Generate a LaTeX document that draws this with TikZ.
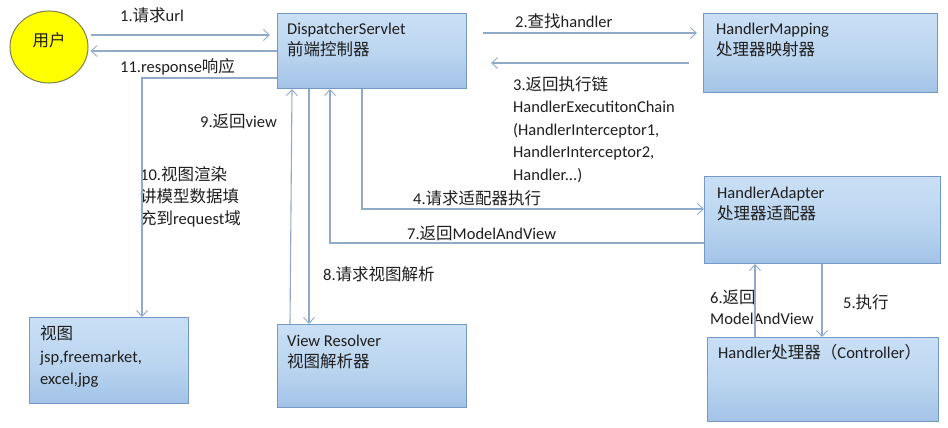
\documentclass[tikz,border=0pt]{standalone}
\usepackage{fontspec}
\setmainfont{Carlito}
\newfontfamily\cjk{Noto Sans CJK SC}
\newcommand\zh[1]{{\cjk #1}}
\usetikzlibrary{arrows.meta,shapes.geometric}
\definecolor{boxtop}{HTML}{C9DFF5}
\definecolor{boxmid}{HTML}{BCD6F0}
\definecolor{boxbot}{HTML}{A3C3E7}
\definecolor{boxedge}{HTML}{7499C4}
\definecolor{arrcol}{HTML}{90AAC8}
\definecolor{txtcol}{HTML}{1E1E1E}
\definecolor{usrfill}{HTML}{FFFF00}
\definecolor{usredge}{HTML}{7F7F55}
\tikzset{
  box/.style={draw=boxedge, line width=1pt, top color=boxtop, bottom color=boxbot, middle color=boxmid, anchor=north west, inner sep=0pt},
  conn/.style={draw=arrcol, line width=1.1pt},
  arr/.style={conn, -{Straight Barb[length=6pt,width=11pt,line width=0.9pt]}},
  lbl/.style={text=txtcol, anchor=base west, inner sep=0pt, font=\fontsize{16.5}{22.5}\selectfont},
}
\begin{document}
\begin{tikzpicture}[x=1pt,y=-1pt]
\useasboundingbox (0,0) rectangle (948,428);
% boxes
\node[ellipse, draw=usredge, line width=1pt, fill=usrfill, minimum width=78pt, minimum height=72pt, inner sep=0pt] (user) at (49,47) {};
\node[text=txtcol, font=\fontsize{16.5}{22.5}\selectfont] (usert) at (49,40) {\zh{用户}};
\node[box, minimum width=189pt, minimum height=75pt] (ds) at (277,13) {};
\node[box, minimum width=234pt, minimum height=79pt] (hm) at (703,13) {};
\node[box, minimum width=236pt, minimum height=87pt] (ha) at (704,176) {};
\node[box, minimum width=231pt, minimum height=84pt] (hd) at (707,337) {};
\node[box, minimum width=189pt, minimum height=83pt] (vr) at (277,324) {};
\node[box, minimum width=159pt, minimum height=86pt] (vw) at (29,317) {};
% box texts
\node[lbl] (dst1) at (287,35) {DispatcherServlet};
\node[lbl] (dst2) at (287,56) {\zh{前端控制器}};
\node[lbl] (hmt1) at (716,35) {HandlerMapping};
\node[lbl] (hmt2) at (716,56) {\zh{处理器映射器}};
\node[lbl] (hat1) at (717,198) {HandlerAdapter};
\node[lbl] (hat2) at (717,219) {\zh{处理器适配器}};
\node[lbl] (hdt) at (718,358) {Handler\zh{处理器（}Controller\zh{）}};
\node[lbl] (vrt1) at (287,346) {View Resolver};
\node[lbl] (vrt2) at (287,367) {\zh{视图解析器}};
\node[lbl] (vwt1) at (40,339) {\zh{视图}};
\node[lbl] (vwt2) at (40,362) {jsp,freemarket,};
\node[lbl] (vwt3) at (40,384) {excel,jpg};
% connector labels
\node[lbl] (l1) at (120,22) {1.\zh{请求}url};
\node[lbl] (l11) at (120,73) {11.response\zh{响应}};
\node[lbl] (l2) at (515,28) {2.\zh{查找}handler};
\node[lbl] (l3a) at (513,90) {3.\zh{返回执行链}};
\node[lbl] (l3b) at (513,112.5) {HandlerExecutitonChain};
\node[lbl] (l3c) at (513,135) {(HandlerInterceptor1,};
\node[lbl] (l3d) at (513,157.5) {HandlerInterceptor2,};
\node[lbl] (l3e) at (513,180) {Handler...)};
\node[lbl] (l4) at (413,204) {4.\zh{请求适配器执行}};
\node[lbl] (l7) at (407,239) {7.\zh{返回}ModelAndView};
\node[lbl] (l8) at (323,280) {8.\zh{请求视图解析}};
\node[lbl] (l9) at (200,128) {9.\zh{返回}view};
\node[lbl] (l10a) at (140,180) {10.\zh{视图渲染}};
\node[lbl] (l10b) at (140,202) {\zh{讲模型数据填}};
\node[lbl] (l10c) at (140,224) {\zh{充到}request\zh{域}};
\node[lbl] (l6a) at (710,303) {6.\zh{返回}};
\node[lbl] (l6b) at (710,324) {ModelAndView};
\node[lbl] (l5) at (843,308) {5.\zh{执行}};
% connectors
\draw[arr] ([xshift=2pt]user.east |- 0,35) -- ([xshift=-7pt]ds.west |- 0,35);
\draw[arr] (ds.west |- 0,51) -- ([xshift=2pt]user.east |- 0,51);
\draw[arr] (ds.west |- 0,78) -| ([xshift=113pt]vw.north west);
\draw[arr] ([xshift=16pt]ds.east |- 0,33) -- ([xshift=-6pt]hm.west |- 0,33);
\draw[arr] ([xshift=-14pt]hm.west |- 0,63) -- ([xshift=24pt]ds.east |- 0,63);
\draw[arr] ([xshift=85pt]ds.south west) |- (ha.west |- 0,209);
\draw[arr] (ha.west |- 0,243) -| ([xshift=53pt]ds.south west);
\draw[arr] ([xshift=32pt]ds.south west) -- ([xshift=32pt]vr.north west);
\draw[arr] ([xshift=13pt]vr.north west) -- ([xshift=15pt]ds.south west);
\draw[arr] ([xshift=118pt]ha.south west) -- ([xshift=115pt]hd.north west);
\draw[arr] ([xshift=48pt]hd.north west) -- ([xshift=51pt]ha.south west);
\end{tikzpicture}
\end{document}
